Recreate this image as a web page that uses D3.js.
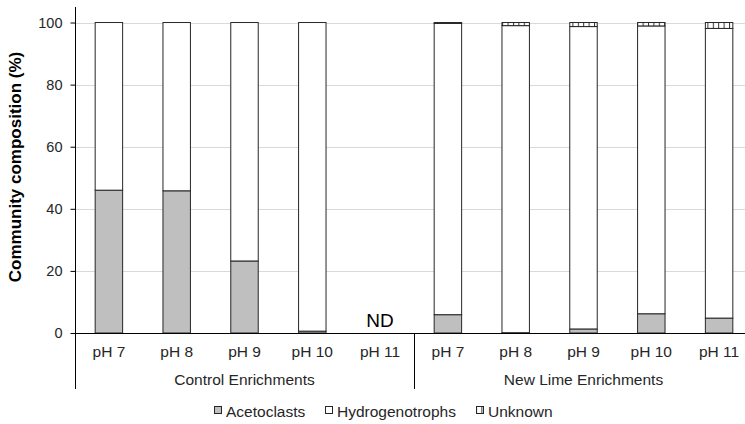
<!DOCTYPE html>
<html>
<head>
<meta charset="utf-8">
<script src="https://cdn.jsdelivr.net/npm/d3@7"></script>
<style>
  html, body { margin: 0; padding: 0; background: #fff; }
  svg { display: block; font-family: "Liberation Sans", Arial, sans-serif; }
</style>
</head>
<body>
<svg id="chart" width="745" height="424"></svg>
<script>
// ---- data ----
const categories = ["pH 7","pH 8","pH 9","pH 10","pH 11","pH 7","pH 8","pH 9","pH 10","pH 11"];
const groupNames = ["Control Enrichments","New Lime Enrichments"];
const groupSizes = [5, 5];
const acetoclasts     = [46.0, 45.8, 23.2, 0.6, null, 5.9, 0.1, 1.3, 6.2, 4.8];
const hydrogenotrophs = [54.0, 54.2, 76.8, 99.4, null, 93.8, 98.9, 97.4, 92.7, 93.3];
const unknown         = [0,    0,    0,    0,   null, 0.3,  1.0,  1.3,  1.1,  1.9];
const seriesNames = ["Acetoclasts","Hydrogenotrophs","Unknown"];
const yTicks = [0, 20, 40, 60, 80, 100];
const ndIndex = 4;

// ---- layout ----
const svg = d3.select("#chart");
const plotLeft = 75, plotRight = 753, plotTop = 7, plotBottom = 333;

const ids = categories.map((c, i) => i);
const x = d3.scaleBand().domain(ids).range([plotLeft, plotRight]).paddingInner(0.595).paddingOuter(0.2975);
const xs = d3.scaleBand().domain(ids).range([plotLeft, plotRight]).padding(0);
const y = d3.scaleLinear().domain([0, 105]).range([plotBottom, plotTop]);

// pattern for unknown
const defs = svg.append("defs");
const pat = defs.append("pattern").attr("id", "hatch").attr("patternUnits", "userSpaceOnUse")
  .attr("width", 5.4).attr("height", 10);
pat.append("rect").attr("width", 5.4).attr("height", 10).attr("fill", "#fff");
pat.append("line").attr("x1", 0.5).attr("x2", 0.5).attr("y1", 0).attr("y2", 10)
  .attr("stroke", "#333").attr("stroke-width", 1);

// gridlines
svg.append("g").selectAll("line").data(yTicks.filter(t => t > 0)).join("line")
  .attr("x1", plotLeft).attr("x2", 745)
  .attr("y1", d => Math.round(y(d)) + 0.5).attr("y2", d => Math.round(y(d)) + 0.5)
  .attr("stroke", "#d9d9d9").attr("stroke-width", 1);

// stacked bars
const rows = ids.map(i => ({ i, Acetoclasts: acetoclasts[i], Hydrogenotrophs: hydrogenotrophs[i], Unknown: unknown[i] }))
  .filter(r => r.Acetoclasts !== null);
const stack = d3.stack().keys(seriesNames)(rows);
const fills = { Acetoclasts: "#bfbfbf", Hydrogenotrophs: "#ffffff", Unknown: "url(#hatch)" };

svg.append("g").selectAll("g").data(stack).join("g")
  .attr("fill", d => fills[d.key])
  .selectAll("rect").data(d => d.filter(p => p[1] - p[0] > 0)).join("rect")
  .attr("x", d => x(d.data.i))
  .attr("width", x.bandwidth())
  .attr("y", d => y(d[1]))
  .attr("height", d => y(d[0]) - y(d[1]))
  .attr("stroke", "#262626").attr("stroke-width", 1);

// ND label
svg.append("text").attr("x", xs(ndIndex) + xs.bandwidth() / 2).attr("y", 327)
  .attr("text-anchor", "middle").attr("font-size", 19).attr("fill", "#000").text("ND");

// y axis
const yAxis = d3.axisLeft(y).tickValues(yTicks).tickSize(5).tickPadding(8);
const ga = svg.append("g").attr("transform", `translate(${plotLeft + 0.5},0)`).call(yAxis);
ga.select(".domain").remove();
ga.selectAll(".tick line").attr("stroke", "#000");
ga.selectAll(".tick text").attr("font-size", 14.5).attr("fill", "#262626")
  .attr("font-family", "'Liberation Sans', Arial, sans-serif");

// axis line, baseline and separators
svg.append("line").attr("x1", plotLeft + 0.5).attr("x2", plotLeft + 0.5).attr("y1", plotTop).attr("y2", 389)
  .attr("stroke", "#000");
svg.append("line").attr("x1", plotLeft).attr("x2", 745).attr("y1", plotBottom + 0.5).attr("y2", plotBottom + 0.5)
  .attr("stroke", "#000");
let acc = 0;
groupSizes.forEach((n, g) => {
  const start = acc; acc += n;
  if (g > 0) {
    const sx = Math.round(xs(start)) + 0.5;
    svg.append("line").attr("x1", sx).attr("x2", sx).attr("y1", plotBottom).attr("y2", 389).attr("stroke", "#000");
  }
  const cx = (xs(start) + xs(acc - 1) + xs.bandwidth()) / 2;
  svg.append("text").attr("x", cx).attr("y", 385).attr("text-anchor", "middle")
    .attr("font-size", 15.5).attr("fill", "#262626").text(groupNames[g]);
});

// category labels
svg.append("g").selectAll("text").data(ids).join("text")
  .attr("x", i => xs(i) + xs.bandwidth() / 2).attr("y", 357)
  .attr("text-anchor", "middle").attr("font-size", 15.5).attr("fill", "#262626")
  .text(i => categories[i]);

// y title
svg.append("text").attr("transform", "translate(21,167) rotate(-90)")
  .attr("text-anchor", "middle").attr("font-size", 17).attr("font-weight", "bold").attr("fill", "#000")
  .text("Community composition (%)");

// legend
const legendX = [214, 325, 476];
const lg = svg.append("g").selectAll("g").data(seriesNames).join("g")
  .attr("transform", (d, i) => `translate(${legendX[i]},0)`);
lg.append("rect").attr("x", 0.5).attr("y", 406.5).attr("width", 7).attr("height", 7)
  .attr("fill", d => fills[d]).attr("stroke", "#262626").attr("stroke-width", 1);
lg.append("text").attr("x", 12).attr("y", 416.5).attr("font-size", 15.5).attr("fill", "#262626").text(d => d);
</script>
</body>
</html>
